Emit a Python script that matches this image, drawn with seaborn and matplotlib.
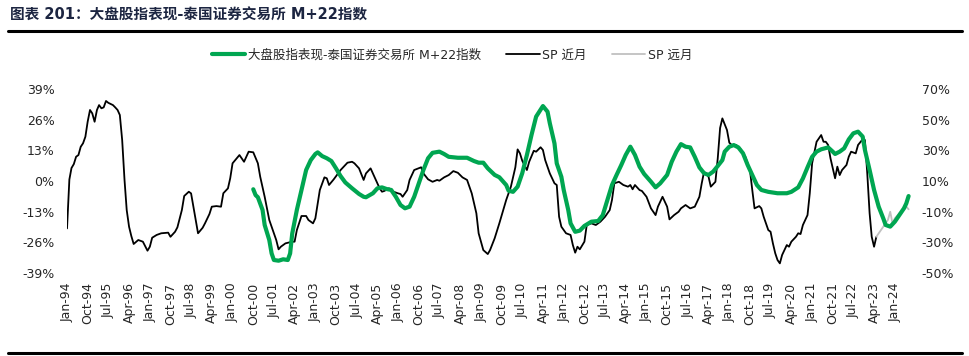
import matplotlib
matplotlib.use("Agg")
import matplotlib.pyplot as plt
from matplotlib.lines import Line2D
import pandas as pd
import seaborn as sns

title = "图表 201：大盘股指表现-泰国证券交易所 M+22指数"
m22_label = "大盘股指表现-泰国证券交易所 M+22指数"
near_label = "SP 近月"
far_label = "SP 远月"

left_ticks = [-39, -26, -13, 0, 13, 26, 39]
right_ticks = [-50, -30, -10, 10, 30, 50, 70]

# M+22 index (left axis, %)
m22_dates = ["2000-10", "2000-11", "2000-12", "2001-02", "2001-03", "2001-05", "2001-06", "2001-07",
             "2001-09", "2001-11", "2002-01", "2002-02", "2002-03", "2002-05", "2002-07", "2002-09",
             "2002-11", "2003-01", "2003-02", "2003-04", "2003-06", "2003-08", "2003-10", "2003-12",
             "2004-02", "2004-05", "2004-08", "2004-10", "2004-11", "2005-02", "2005-04", "2005-06",
             "2005-08", "2005-10", "2005-12", "2006-02", "2006-04", "2006-06", "2006-08", "2006-10",
             "2006-12", "2007-02", "2007-04", "2007-07", "2007-09", "2007-11", "2008-03", "2008-07",
             "2008-10", "2008-12", "2009-02", "2009-04", "2009-07", "2009-09", "2009-12", "2010-01",
             "2010-03", "2010-05", "2010-07", "2010-09", "2010-11", "2011-01", "2011-04", "2011-06",
             "2011-07", "2011-09", "2011-10", "2011-12", "2012-01", "2012-03", "2012-04", "2012-06",
             "2012-08", "2012-10", "2013-01", "2013-04", "2013-06", "2013-08", "2013-10", "2013-12",
             "2014-02", "2014-04", "2014-06", "2014-08", "2014-10", "2014-12", "2015-03", "2015-05",
             "2015-07", "2015-10", "2015-12", "2016-02", "2016-04", "2016-06", "2016-08", "2016-10",
             "2016-12", "2017-02", "2017-04", "2017-06", "2017-08", "2017-10", "2017-11", "2018-01",
             "2018-03", "2018-05", "2018-07", "2018-09", "2018-11", "2019-01", "2019-03", "2019-06",
             "2019-10", "2020-02", "2020-04", "2020-07", "2020-09", "2020-11", "2021-01", "2021-03",
             "2021-05", "2021-08", "2021-10", "2021-11", "2022-01", "2022-03", "2022-05", "2022-07",
             "2022-09", "2022-11", "2022-12", "2023-02", "2023-04", "2023-06", "2023-08", "2023-09",
             "2023-11", "2024-01", "2024-03", "2024-05", "2024-06", "2024-07"]
m22_vals = [-3.5, -6.0, -6.9, -12.3, -18.7, -25.1, -30.8, -33.6,
            -33.9, -33.3, -33.6, -30.8, -22.3, -12.3, -3.8, 4.7,
            8.9, 11.5, 12.2, 10.6, 9.7, 8.5, 5.4, 2.1,
            -0.6, -3.1, -5.5, -6.7, -6.9, -5.2, -3.1, -2.7,
            -3.4, -3.8, -6.7, -10.2, -11.6, -10.9, -6.7, -1.0,
            4.7, 9.7, 12.0, 12.5, 11.5, 10.3, 9.9, 9.9,
            8.5, 7.8, 7.8, 5.4, 2.6, 1.6, -1.7, -4.1,
            -4.6, -2.4, 3.3, 11.1, 19.6, 27.4, 31.9, 29.5,
            24.6, 16.0, 7.5, 1.8, -3.8, -12.3, -18.0, -21.6,
            -21.1, -19.1, -17.3, -17.0, -14.5, -8.1, -1.7, 2.6,
            6.8, 11.1, 14.6, 11.1, 6.1, 3.0, -0.3, -2.7,
            -1.0, 2.6, 8.2, 12.5, 15.7, 14.6, 14.3, 10.3,
            5.8, 3.3, 2.6, 4.0, 6.4, 8.9, 12.5, 14.6,
            15.3, 14.3, 11.8, 6.8, 2.6, -1.7, -3.8, -4.6,
            -5.2, -5.2, -4.6, -2.7, 1.1, 5.8, 10.3, 12.5,
            13.5, 14.3, 12.5, 11.5, 12.5, 13.9, 17.7, 20.3,
            21.0, 18.9, 13.2, 4.7, -3.8, -10.9, -15.9, -18.7,
            -19.4, -17.3, -14.5, -11.6, -9.5, -6.4]

# SP near month (right axis, %)
near_dates = ["1994-01", "1994-02", "1994-03", "1994-04", "1994-05", "1994-06", "1994-07", "1994-08",
              "1994-09", "1994-10", "1994-11", "1994-12", "1995-01", "1995-02", "1995-03", "1995-04",
              "1995-05", "1995-06", "1995-07", "1995-09", "1995-10", "1995-11", "1995-12", "1996-01",
              "1996-02", "1996-03", "1996-04", "1996-05", "1996-06", "1996-08", "1996-10", "1996-12",
              "1997-01", "1997-02", "1997-04", "1997-06", "1997-09", "1997-10", "1997-12", "1998-01",
              "1998-03", "1998-04", "1998-06", "1998-07", "1998-08", "1998-09", "1998-10", "1998-12",
              "1999-01", "1999-03", "1999-04", "1999-06", "1999-08", "1999-09", "1999-11", "1999-12",
              "2000-01", "2000-04", "2000-06", "2000-08", "2000-10", "2000-12", "2001-01", "2001-03",
              "2001-05", "2001-08", "2001-09", "2001-10", "2001-12", "2002-03", "2002-04", "2002-05",
              "2002-07", "2002-09", "2002-10", "2002-12", "2003-01", "2003-03", "2003-05", "2003-06",
              "2003-07", "2003-09", "2003-12", "2004-03", "2004-05", "2004-06", "2004-08", "2004-10",
              "2004-11", "2005-01", "2005-03", "2005-05", "2005-06", "2005-07", "2005-09", "2005-11",
              "2006-01", "2006-02", "2006-03", "2006-05", "2006-06", "2006-08", "2006-11", "2006-12",
              "2007-02", "2007-04", "2007-06", "2007-07", "2007-09", "2007-11", "2008-01", "2008-03",
              "2008-05", "2008-07", "2008-09", "2008-11", "2008-12", "2009-02", "2009-04", "2009-05",
              "2009-07", "2009-09", "2009-12", "2010-02", "2010-04", "2010-05", "2010-06", "2010-07",
              "2010-09", "2010-10", "2010-12", "2011-01", "2011-03", "2011-04", "2011-05", "2011-07",
              "2011-09", "2011-10", "2011-11", "2011-12", "2012-02", "2012-04", "2012-05", "2012-06",
              "2012-07", "2012-08", "2012-10", "2012-11", "2013-01", "2013-03", "2013-05", "2013-07",
              "2013-09", "2013-10", "2013-11", "2014-01", "2014-03", "2014-05", "2014-06", "2014-07",
              "2014-08", "2014-10", "2014-11", "2015-01", "2015-03", "2015-05", "2015-06", "2015-08",
              "2015-10", "2015-11", "2016-01", "2016-03", "2016-04", "2016-06", "2016-08", "2016-10",
              "2016-12", "2017-01", "2017-02", "2017-04", "2017-05", "2017-07", "2017-08", "2017-09",
              "2017-10", "2017-12", "2018-01", "2018-02", "2018-04", "2018-06", "2018-08", "2018-10",
              "2018-11", "2018-12", "2019-02", "2019-03", "2019-04", "2019-06", "2019-07", "2019-08",
              "2019-09", "2019-10", "2019-11", "2019-12", "2020-02", "2020-03", "2020-04", "2020-06",
              "2020-07", "2020-08", "2020-09", "2020-11", "2020-12", "2021-01", "2021-03", "2021-05",
              "2021-06", "2021-07", "2021-08", "2021-09", "2021-10", "2021-11", "2021-12", "2022-01",
              "2022-02", "2022-04", "2022-05", "2022-06", "2022-08", "2022-09", "2022-11", "2022-12",
              "2023-01", "2023-02", "2023-03", "2023-04", "2023-05"]
near_vals = [-21.0, 11.0, 18.5, 21.1, 25.9, 27.0, 32.4, 34.7,
             39.0, 48.8, 56.5, 54.3, 48.8, 56.5, 59.7, 57.6,
             58.2, 62.4, 61.2, 59.7, 58.2, 56.5, 53.2, 36.8,
             10.7, -9.0, -19.9, -26.0, -31.2, -28.6, -29.7, -35.6,
             -33.0, -27.1, -25.3, -24.2, -23.8, -26.5, -23.2, -20.3,
             -9.0, 0.2, 3.0, 1.9, -6.8, -15.5, -24.2, -20.6,
             -17.7, -11.6, -6.8, -6.4, -6.8, 2.0, 5.2, 11.8,
             21.6, 27.0, 22.6, 29.2, 28.8, 21.6, 12.8, -0.3,
             -15.5, -28.6, -34.7, -33.0, -30.8, -29.7, -29.7, -22.1,
             -12.9, -12.9, -15.5, -17.7, -14.4, 4.1, 12.4, 11.8,
             7.4, 11.1, 17.2, 22.0, 22.6, 21.6, 18.3, 10.7,
             15.0, 18.3, 11.8, 5.2, 3.0, 3.5, 5.2, 3.0,
             1.9, 1.5, -0.3, 4.1, 10.7, 17.2, 19.0, 15.0,
             11.1, 9.5, 10.7, 10.2, 12.4, 13.9, 16.5, 15.4,
             12.4, 10.7, 1.9, -11.1, -24.2, -35.2, -37.8, -35.2,
             -27.5, -17.7, -2.4, 6.3, 19.0, 30.7, 28.1, 23.3,
             17.2, 22.6, 29.8, 29.2, 32.1, 30.3, 23.7, 15.0,
             8.5, 7.4, -13.4, -19.9, -24.2, -25.3, -31.9, -36.9,
             -33.0, -34.7, -29.7, -18.8, -17.7, -18.8, -16.6, -13.4,
             -9.0, -2.4, 8.5, 9.5, 7.4, 6.3, 7.4, 4.6,
             7.4, 4.1, 3.5, -0.3, -7.9, -12.3, -6.8, -0.3,
             -6.8, -15.1, -12.3, -10.1, -7.9, -5.7, -7.9, -6.8,
             -0.3, 8.5, 16.1, 12.8, 6.3, 9.5, 24.9, 44.7,
             51.0, 43.4, 35.1, 33.6, 33.6, 30.7, 25.9, 17.2,
             4.1, -7.9, -6.4, -7.9, -13.4, -22.1, -23.2, -30.8,
             -37.3, -41.7, -43.9, -38.4, -31.9, -33.0, -29.7, -26.5,
             -24.2, -24.7, -18.8, -12.3, 2.0, 21.6, 35.7, 40.1,
             35.7, 35.7, 33.6, 24.9, 18.3, 11.8, 19.4, 13.9,
             17.2, 20.5, 25.9, 29.2, 28.1, 33.6, 37.3, 36.8,
             15.0, -11.1, -26.5, -33.0, -26.5]

# SP far month (right axis, %)
far_dates = ["2023-05", "2023-07", "2023-08", "2023-10", "2023-11", "2023-12",
             "2024-01", "2024-03", "2024-04", "2024-06", "2024-07"]
far_vals = [-26.5, -22.1, -19.9, -15.5, -10.1, -17.7,
            -14.4, -11.1, -10.1, -6.8, -8.5]

m22_df = pd.DataFrame({"date": pd.to_datetime(m22_dates), "value": m22_vals})
near_df = pd.DataFrame({"date": pd.to_datetime(near_dates), "value": near_vals})
far_df = pd.DataFrame({"date": pd.to_datetime(far_dates), "value": far_vals})

sns.set_theme(style="white")
plt.rcParams["font.family"] = ["DejaVu Sans", "Noto Sans CJK SC"]
plt.rcParams["axes.unicode_minus"] = False

GREEN = "#00A651"
TXT = "#262626"

fig = plt.figure(figsize=(9.7, 3.56), dpi=100)
ax = fig.add_axes([0.0691, 0.234, 0.8711, 0.515])
ax2 = ax.twinx()

sns.lineplot(data=near_df, x="date", y="value", ax=ax2, color="black", linewidth=1.3, label=near_label, legend=False)
sns.lineplot(data=far_df, x="date", y="value", ax=ax2, color="#c0c0c0", linewidth=1.3, label=far_label, legend=False)
sns.lineplot(data=m22_df, x="date", y="value", ax=ax, color=GREEN, linewidth=3.0, label=m22_label, legend=False)
ax.set_zorder(ax2.get_zorder() + 1)
ax.patch.set_visible(False)

ax.set_ylim(-39, 39)
ax2.set_ylim(-50, 70)
ax.set_yticks(left_ticks)
ax.set_yticklabels([f"{t}%" for t in left_ticks])
ax2.set_yticks(right_ticks)
ax2.set_yticklabels([f"{t}%" for t in right_ticks])

xticks = pd.date_range("1994-01-01", "2024-01-01", freq="9MS")
ax.set_xlim(pd.Timestamp("1994-01-01"), pd.Timestamp("2024-08-15"))
ax.set_xticks(xticks)
ax.set_xticklabels([d.strftime("%b-%y") for d in xticks], rotation=90)
ax.set_xlabel("")
ax.set_ylabel("")
ax2.set_ylabel("")
ax2.set_xlabel("")

ax.tick_params(axis="x", length=0, pad=7, labelsize=9, colors=TXT)
ax.tick_params(axis="y", length=0, pad=9, labelsize=9, colors=TXT)
ax2.tick_params(axis="y", length=0, pad=7, labelsize=9, colors=TXT)
for a in (ax, ax2):
    for s in a.spines.values():
        s.set_visible(False)
    a.grid(False)

h1, l1 = ax.get_legend_handles_labels()
h2, l2 = ax2.get_legend_handles_labels()
fig.legend(h1 + h2, l1 + l2, loc="center", bbox_to_anchor=(0.466, 0.845), ncol=3,
           frameon=False, fontsize=9, handlelength=2.7, handletextpad=0.2,
           columnspacing=2.0, labelcolor=TXT)

fig.text(0.010, 0.958, title, fontsize=10.5, fontweight="bold", color="#1c2541",
         ha="left", va="center")
fig.add_artist(Line2D([0.008, 0.992], [0.913, 0.913], transform=fig.transFigure, color="black", linewidth=2.2))
fig.add_artist(Line2D([0.008, 0.992], [0.008, 0.008], transform=fig.transFigure, color="black", linewidth=2.2))

fig.savefig("out.png", dpi=100)
